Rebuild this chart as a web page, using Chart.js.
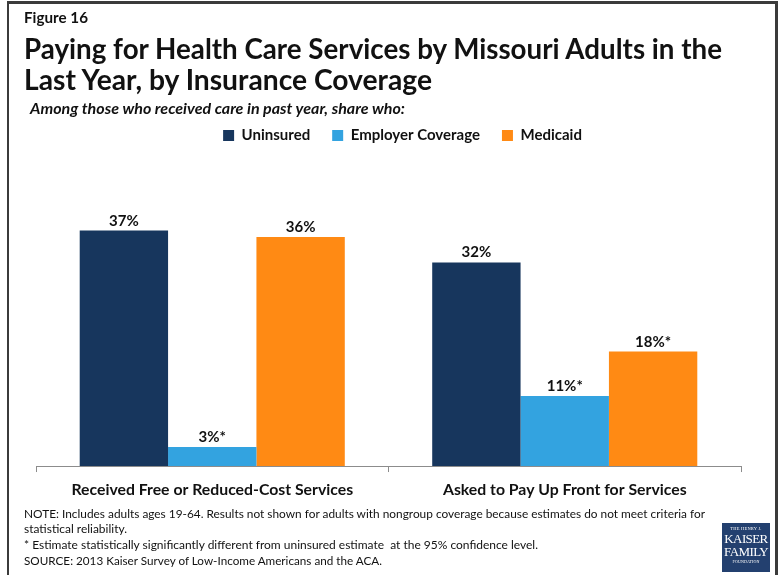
<!DOCTYPE html>
<html>
<head>
<meta charset="utf-8">
<script src="https://cdn.jsdelivr.net/npm/chart.js@4.4.1/dist/chart.umd.min.js"></script>
<style>
  html, body { margin: 0; padding: 0; background: #fff; }
  body { width: 779px; height: 575px; position: relative; overflow: hidden;
         font-family: Lato, "Open Sans", sans-serif; color: #111; }
  #frame { position: absolute; left: 7px; top: 1px; width: 766px; height: 640px;
           border: 2px solid #3b3b3b; border-top-width: 3px; border-right-width: 3px; }
  #chartWrap { position: absolute; left: 0; top: 0; width: 779px; height: 575px; }
  .t { position: absolute; white-space: nowrap; transform-origin: 0 0; line-height: 1; }
  #logo { position: absolute; left: 722px; top: 523px; width: 48px; height: 49px;
          background: #23406f; color: #fff; font-family: "Liberation Serif", "DejaVu Serif", serif;
          text-align: center; line-height: 1; overflow: hidden; }
  #logo .s { font-size: 4.5px; letter-spacing: 0.2px; margin-top: 4px; }
  #logo .b { font-size: 13px; letter-spacing: -0.6px; }
  #logo .f { font-size: 4px; letter-spacing: 0.1px; margin-top: 2px; }
</style>
</head>
<body>
<div id="chartWrap"><canvas id="chart" width="779" height="575"></canvas></div>
<div id="frame"></div>

<div class="t" data-w="64" style="left:24px; top:10px; font-size:15px; font-weight:700;">Figure 16</div>
<div class="t" data-w="698" style="left:24px; top:33px; font-size:29px; font-weight:700;">Paying for Health Care Services by Missouri Adults in the</div>
<div class="t" data-w="408" style="left:24px; top:64px; font-size:29px; font-weight:700;">Last Year, by Insurance Coverage</div>
<div class="t" data-w="375" style="left:30px; top:101px; font-size:15px; font-weight:700; font-style:italic;">Among those who received care in past year, share who:</div>

<div class="t" data-w="681" style="left:24px; top:508px; font-size:12px;">NOTE: Includes adults ages 19-64. Results not shown for adults with nongroup coverage because estimates do not meet criteria for</div>
<div class="t" data-w="103" style="left:24px; top:523px; font-size:12px;">statistical reliability.</div>
<div class="t" data-w="514" style="left:24px; top:539px; font-size:12px;">* Estimate statistically significantly different from uninsured estimate&nbsp; at the 95% confidence level.</div>
<div class="t" data-w="358" style="left:24px; top:555px; font-size:12px;">SOURCE: 2013 Kaiser Survey of Low-Income Americans and the ACA.</div>

<div id="logo">
  <div class="s">THE HENRY J.</div>
  <div class="b">KAISER</div>
  <div class="b">FAMILY</div>
  <div class="f">FOUNDATION</div>
</div>

<script>
// Survey categories and the share (%) in each coverage group
const categories = ['Received Free or Reduced-Cost Services', 'Asked to Pay Up Front for Services'];
const seriesNames = ['Uninsured', 'Employer Coverage', 'Medicaid'];
const uninsured = [37, 32];
const employerCoverage = [3, 11];
const medicaid = [36, 18];
// Estimates significantly different from the uninsured estimate (marked with *)
const uninsuredSig = [false, false];
const employerSig = [true, true];
const medicaidSig = [false, true];

const colors = ['#17365d', '#33a3e0', '#ff8a14'];
const FONT = 'Lato, "Open Sans", sans-serif';

// Percent labels above each bar
const valueLabels = {
  id: 'valueLabels',
  afterDatasetsDraw(chart) {
    const ctx = chart.ctx;
    ctx.save();
    ctx.font = 'bold 15px ' + FONT;
    ctx.fillStyle = '#111';
    ctx.textAlign = 'center';
    ctx.textBaseline = 'alphabetic';
    chart.data.datasets.forEach((ds, i) => {
      const meta = chart.getDatasetMeta(i);
      meta.data.forEach((bar, j) => {
        const txt = ds.data[j] + '%' + (ds.sig[j] ? '*' : '');
        ctx.fillText(txt, bar.x, bar.y - 5);
      });
    });
    ctx.restore();
  }
};

// Nudge the legend so it sits centred on the page rather than on the plot
const legendShift = {
  id: 'legendShift',
  afterLayout(chart) {
    const lg = chart.legend;
    if (lg) { lg.left += 14; lg.right += 14; }
  }
};

new Chart(document.getElementById('chart'), {
  type: 'bar',
  data: {
    labels: categories,
    datasets: [
      { label: seriesNames[0], data: uninsured, sig: uninsuredSig, backgroundColor: colors[0] },
      { label: seriesNames[1], data: employerCoverage, sig: employerSig, backgroundColor: colors[1] },
      { label: seriesNames[2], data: medicaid, sig: medicaidSig, backgroundColor: colors[2] }
    ]
  },
  options: {
    responsive: false,
    animation: false,
    devicePixelRatio: 1,
    layout: { padding: { top: 106, left: 36, right: 38, bottom: 68 } },
    datasets: { bar: { barPercentage: 1, categoryPercentage: 0.752, borderWidth: 0 } },
    plugins: {
      legend: {
        position: 'top',
        labels: {
          boxWidth: 11, boxHeight: 11, padding: 22,
          color: '#111',
          font: { family: FONT, size: 15, weight: 'bold' }
        }
      },
      tooltip: { enabled: false }
    },
    scales: {
      x: {
        grid: { display: true, drawOnChartArea: false, drawTicks: true, tickLength: 6, color: '#8c8c8c', offset: true },
        border: { display: true, color: '#8c8c8c', width: 1 },
        ticks: { color: '#111', padding: 8, maxRotation: 0, font: { family: FONT, size: 15.8, weight: 'bold' } }
      },
      y: { display: false, min: 0, max: 49.2 }
    }
  },
  plugins: [valueLabels, legendShift]
});

// Fit each heading/note line to its set width
function fitText() {
  document.querySelectorAll('.t[data-w]').forEach(el => {
    el.style.transform = 'none';
    const w = el.getBoundingClientRect().width;
    const target = parseFloat(el.dataset.w);
    if (w > 0) el.style.transform = 'scaleX(' + (target / w) + ')';
  });
}
fitText();
if (document.fonts && document.fonts.ready) document.fonts.ready.then(fitText);
</script>
</body>
</html>
